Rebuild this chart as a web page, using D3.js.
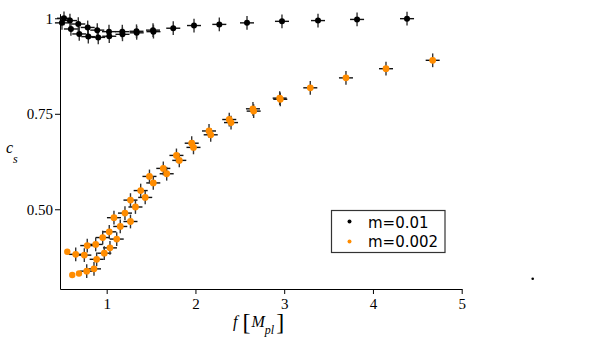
<!DOCTYPE html>
<html><head><meta charset="utf-8">
<script src="https://cdn.jsdelivr.net/npm/d3@7"></script>
<style>body{margin:0;background:#fff}svg{display:block}.serif{font-family:"Liberation Serif","DejaVu Serif",serif}</style>
</head><body>
<svg id="chart" width="590" height="344"></svg>
<script>
// m=0.01 (black), two branches
const blackF  = [0.519,0.586,0.680,0.786,0.894,1.026,1.176,1.336,1.522,1.750,1.984,2.269,2.581,2.975,3.381,3.821,4.384,
                 0.496,0.597,0.691,0.793,0.905,1.029,1.178,1.338,1.527];
const blackCs = [1.000,0.994,0.985,0.976,0.969,0.965,0.965,0.966,0.969,0.974,0.981,0.984,0.988,0.992,0.994,0.997,0.999,
                 0.988,0.972,0.959,0.952,0.950,0.953,0.958,0.962,0.965];
// m=0.002 (orange)
const orangeF  = [0.651,0.748,0.775,0.781,0.857,0.876,0.887,0.955,0.973,1.029,1.037,1.082,1.113,1.153,1.206,1.268,1.268,1.324,
                  1.383,1.434,1.482,1.525,1.638,1.676,1.786,1.818,1.958,1.978,2.153,2.172,2.381,2.401,2.648,2.656,
                  2.949,2.956,3.294,3.696,4.147,4.673];
const orangeCs = [0.382,0.380,0.338,0.405,0.344,0.408,0.369,0.426,0.385,0.441,0.399,0.478,0.422,0.455,0.490,0.468,0.524,0.506,
                  0.549,0.531,0.586,0.569,0.607,0.593,0.641,0.628,0.673,0.662,0.705,0.695,0.735,0.727,0.763,0.757,
                  0.791,0.788,0.818,0.844,0.868,0.890];
// orange points drawn without error bars
const orangePlainF  = [0.556,0.612,0.688];
const orangePlainCs = [0.389,0.328,0.332];
const fErr = 0.079, csErr = 0.018;
const xTicks = [1,2,3,4,5];
const yTicks = [0.50,0.75,1];
const yTickLabels = ["0.50","0.75","1"];
const legendLabels = ["m=0.01","m=0.002"];
const strayDot = [5.8, 0.318];

const svg = d3.select("#chart");
const x = d3.scaleLinear().domain([0.474, 5]).range([60, 461.7]);
const y = d3.scaleLinear().domain([0.2913, 1.012]).range([289, 13.7]);
const ORANGE = "#ff8c00";

// axes
const xAxis = svg.append("g").attr("transform","translate(0,289)")
  .call(d3.axisBottom(x).tickValues(xTicks).tickFormat(d3.format("d")).tickSize(5).tickSizeOuter(0).tickPadding(4));
const yAxis = svg.append("g").attr("transform","translate(60,0)")
  .call(d3.axisLeft(y).tickValues(yTicks).tickFormat((d,i)=>yTickLabels[i]).tickSize(5).tickSizeOuter(0).tickPadding(2));
[xAxis,yAxis].forEach(g=>{
  g.attr("font-family",null);
  g.selectAll("text").attr("class","serif").attr("font-size",15).attr("fill","#000");
  g.selectAll("path,line").attr("stroke","#000").attr("stroke-width",1);
});

function series(F, C) { return F.map((f,i)=>({f, c:C[i]})); }
function drawErr(data) {
  const g = svg.append("g");
  g.selectAll("line.h").data(data).join("line").attr("class","h")
    .attr("x1",d=>x(d.f-fErr)).attr("x2",d=>x(d.f+fErr))
    .attr("y1",d=>y(d.c)).attr("y2",d=>y(d.c))
    .attr("stroke","#111").attr("stroke-width",1.4);
  g.selectAll("line.v").data(data).join("line").attr("class","v")
    .attr("x1",d=>x(d.f)).attr("x2",d=>x(d.f))
    .attr("y1",d=>y(d.c-csErr)).attr("y2",d=>y(d.c+csErr))
    .attr("stroke","#333").attr("stroke-width",1.4);
}
function drawDots(data, color, r) {
  svg.append("g").selectAll("circle").data(data).join("circle")
    .attr("cx",d=>x(d.f)).attr("cy",d=>y(d.c)).attr("r",r).attr("fill",color);
}
const blk = series(blackF, blackCs);
const org = series(orangeF, orangeCs);
const orgPlain = series(orangePlainF, orangePlainCs);
drawErr(blk); drawErr(org);
drawDots(blk, "#000", 3);
drawDots(org, ORANGE, 3.4);
drawDots(orgPlain, ORANGE, 3.2);

// stray dot
svg.append("circle").attr("cx",x(strayDot[0])).attr("cy",y(strayDot[1])).attr("r",1.3).attr("fill","#000");

// axis titles
const xt = svg.append("text").attr("class","serif").attr("x",233).attr("y",327).attr("font-size",16);
xt.append("tspan").attr("font-style","italic").text("f");
xt.append("tspan").attr("dx",5).attr("font-size",24).attr("dy",3).text("[");
xt.append("tspan").attr("font-style","italic").attr("font-size",16).attr("dy",-3).attr("dx",1).text("M");
xt.append("tspan").attr("font-style","italic").attr("font-size",12).attr("dy",7).text("pl");
xt.append("tspan").attr("font-size",24).attr("dy",-4).attr("dx",2).text("]");

const yt = svg.append("text").attr("class","serif").attr("x",6).attr("y",153).attr("font-size",16).attr("font-style","italic");
yt.append("tspan").text("c");
yt.append("tspan").attr("font-size",12).attr("dy",10).text("s");

// legend
const lg = svg.append("g");
lg.append("rect").attr("x",331.5).attr("y",210.5).attr("width",113.5).attr("height",42)
  .attr("fill","#fff").attr("stroke","#333").attr("stroke-width",1.2);
const lcol = ["#000", ORANGE];
legendLabels.forEach((t,i)=>{
  lg.append("circle").attr("cx",349.5).attr("cy",221.5+i*20).attr("r",2).attr("fill",lcol[i]);
  lg.append("text").attr("x",368).attr("y",228+i*19).attr("font-family","'DejaVu Sans',sans-serif")
    .attr("font-size",15).attr("fill","#000").text(t);
});
</script>
</body></html>
